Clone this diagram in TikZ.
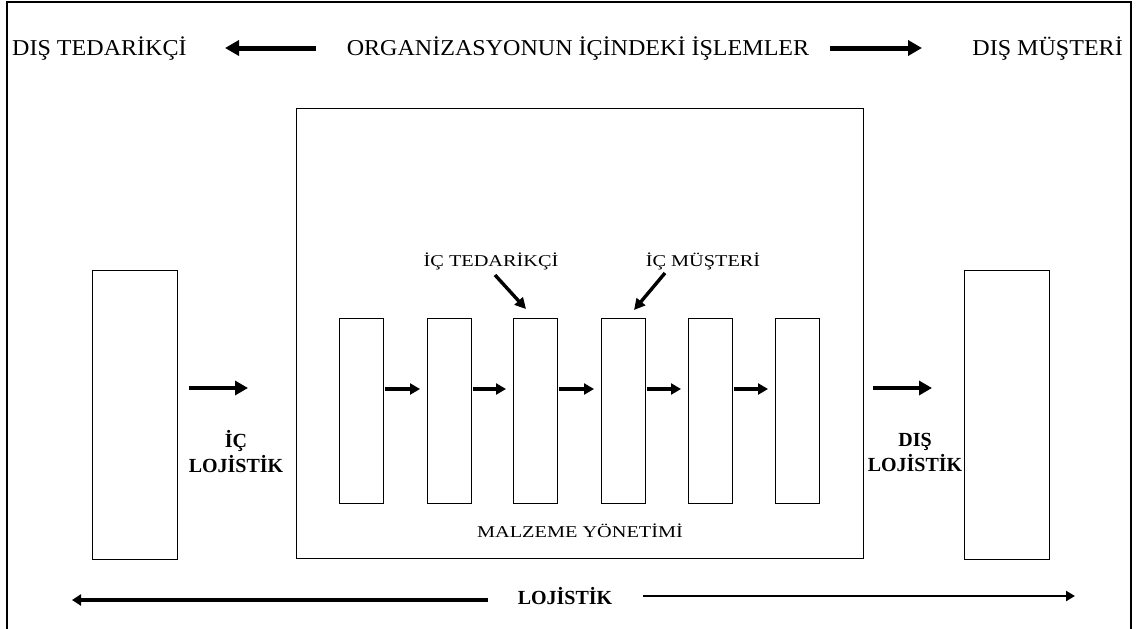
\documentclass[tikz,border=0pt]{standalone}
\usepackage{fontspec}
\setmainfont{Liberation Serif}
\newfontfamily\topf[FakeStretch=1.06]{Liberation Serif}
\newfontfamily\lblf[FakeStretch=1.23]{Liberation Serif}
\usetikzlibrary{arrows.meta}
\begin{document}
\begin{tikzpicture}[x=1pt,y=-1pt,
  box/.style={draw, line width=1.2pt, inner sep=0pt, anchor=north west},
  smallbox/.style={box, minimum width=44pt, minimum height=185pt},
  sidebox/.style={box, minimum width=85pt, minimum height=289pt},
  toptext/.style={inner sep=0pt, font=\topf\fontsize{22.7}{26}\selectfont},
  lbltext/.style={inner sep=0pt, font=\lblf\fontsize{16.5}{20}\selectfont},
  boldtext/.style={inner sep=0pt, align=center, font=\bfseries\fontsize{20}{25}\selectfont},
  toparrow/.style={line width=5pt, -{Triangle[length=14pt,width=15pt]}},
  midarrow/.style={line width=4.5pt, -{Triangle[length=13pt,width=14pt]}},
  chain/.style={line width=3.4pt, -{Triangle[length=10pt,width=11pt]}, shorten <=1pt, shorten >=7pt},
  diag/.style={line width=3.4pt, -{Triangle[length=11pt,width=11pt]}},
]
\useasboundingbox (0,0) rectangle (1136,629);
% outer frame (open at the bottom)
\draw[line width=1.5pt] (7,629) -- (7,2) -- (1131,2) -- (1131,629);

% top row
\node[toptext, anchor=base west] (dt) at (12,55) {DIŞ TEDARİKÇİ};
\node[toptext, anchor=base] (org) at (578,55) {ORGANİZASYONUN İÇİNDEKİ İŞLEMLER};
\node[toptext, anchor=base east] (dm) at (1123,55) {DIŞ MÜŞTERİ};
\coordinate (tl1) at (316,48);
\coordinate (tl2) at (225,48);
\coordinate (tr1) at (830,48);
\coordinate (tr2) at (922,48);
\draw[toparrow] (tl1) -- (tl2);
\draw[toparrow] (tr1) -- (tr2);

% boxes
\node[box, minimum width=567pt, minimum height=450pt] (mid) at (296,108) {};
\node[sidebox] (lb) at (92,270) {};
\node[sidebox] (rb) at (964,270) {};
\node[smallbox] (b1) at (339,318) {};
\node[smallbox] (b2) at (427,318) {};
\node[smallbox] (b3) at (513,318) {};
\node[smallbox] (b4) at (601,318) {};
\node[smallbox] (b5) at (688,318) {};
\node[smallbox] (b6) at (775,318) {};

% chain arrows
\coordinate (cy) at (0,389);
\draw[chain] (b1.east |- cy) -- (b2.west |- cy);
\draw[chain] (b2.east |- cy) -- (b3.west |- cy);
\draw[chain] (b3.east |- cy) -- (b4.west |- cy);
\draw[chain] (b4.east |- cy) -- (b5.west |- cy);
\draw[chain] (b5.east |- cy) -- (b6.west |- cy);

% internal supplier / customer
\node[lbltext, anchor=base] (itd) at (491,266) {İÇ TEDARİKÇİ};
\node[lbltext, anchor=base] (imu) at (703,266) {İÇ MÜŞTERİ};
\coordinate (d1a) at (495,275);
\coordinate (d1b) at (526,309);
\coordinate (d2a) at (665,273);
\coordinate (d2b) at (634,310);
\draw[diag] (d1a) -- (d1b);
\draw[diag] (d2a) -- (d2b);

\node[lbltext, anchor=base] (mal) at (580,537) {MALZEME YÖNETİMİ};

% inbound / outbound logistics
\coordinate (ay) at (0,388);
\draw[midarrow, shorten <=11pt, shorten >=48pt] (lb.east |- ay) -- (mid.west |- ay);
\draw[midarrow, shorten <=9pt, shorten >=32pt] (mid.east |- ay) -- (rb.west |- ay);
\node[boldtext] (icl) at (236,452) {İÇ\\LOJİSTİK};
\node[boldtext] (dsl) at (915,452) {DIŞ\\LOJİSTİK};

% bottom logistics
\node[boldtext, anchor=base] (loj) at (565,604) {LOJİSTİK};
\coordinate (bl1) at (488,600);
\coordinate (bl2) at (72,600);
\coordinate (br1) at (643,596);
\coordinate (br2) at (1075,596);
\draw[line width=4.2pt, -{Triangle[length=9pt,width=11pt]}] (bl1) -- (bl2);
\draw[line width=2.6pt, -{Triangle[length=9pt,width=10pt]}] (br1) -- (br2);
\end{tikzpicture}
\end{document}
